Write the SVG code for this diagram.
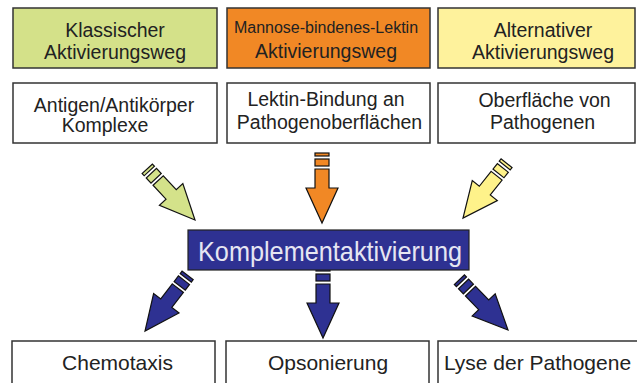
<svg xmlns="http://www.w3.org/2000/svg" xmlns:xlink="http://www.w3.org/1999/xlink" width="637" height="383" viewBox="0 0 637 383">
<style>
.box{stroke:#333;stroke-width:1.5}
.t{font-family:"Liberation Sans",Arial,sans-serif;fill:#222;text-anchor:middle}
.arr{stroke:#111;stroke-width:1.2;stroke-linejoin:miter}
</style>
<defs>
<g id="arrow">
<rect x="-7" y="-70" width="14" height="3"/>
<rect x="-7" y="-64" width="14" height="7"/>
<path d="M-7,-54 L7,-54 L7,-35 L16,-35 L0,0 L-16,-35 L-7,-35 Z"/>
</g>
</defs>
<rect width="637" height="383" fill="#fff"/>
<g id="connectors" class="arr">
<use xlink:href="#arrow" fill="#D4E28A" transform="translate(195,220) rotate(-43)"/>
<use xlink:href="#arrow" fill="#F18825" transform="translate(322,223)"/>
<use xlink:href="#arrow" fill="#FEF28A" transform="translate(463,218) rotate(38.5)"/>
<use xlink:href="#arrow" fill="#2E3192" transform="translate(145,331) rotate(37.5)"/>
<use xlink:href="#arrow" fill="#2E3192" transform="translate(323,338)"/>
<use xlink:href="#arrow" fill="#2E3192" transform="translate(508,330) rotate(-44)"/>
</g>
<g id="klassisch">
<rect class="box" x="13" y="8" width="204" height="60" fill="#D4E189"/>
<text class="t" x="115" y="37" font-size="19.5">Klassischer</text>
<text class="t" x="115" y="59" font-size="19.5">Aktivierungsweg</text>
</g>
<g id="mbl">
<rect class="box" x="227" y="8" width="203" height="60" fill="#F18825"/>
<text class="t" x="326" y="33" font-size="16">Mannose-bindenes-Lektin</text>
<text class="t" x="326" y="58" font-size="19.5">Aktivierungsweg</text>
</g>
<g id="alternativ">
<rect class="box" x="438" y="8" width="197" height="60" fill="#FEF29C"/>
<text class="t" x="543" y="37" font-size="19.5">Alternativer</text>
<text class="t" x="543" y="59" font-size="19.5">Aktivierungsweg</text>
</g>
<g id="antigen">
<rect class="box" x="13" y="83" width="204" height="60" fill="#fff"/>
<text class="t" x="114" y="112" font-size="19.5">Antigen/Antikörper</text>
<text class="t" x="105" y="132" font-size="19.5">Komplexe</text>
</g>
<g id="lektin">
<rect class="box" x="227" y="83" width="203" height="60" fill="#fff"/>
<text class="t" x="326" y="106" font-size="19.5">Lektin-Bindung an</text>
<text class="t" x="329.5" y="129" font-size="19.5">Pathogenoberflächen</text>
</g>
<g id="oberflaeche">
<rect class="box" x="438" y="83" width="197" height="60" fill="#fff"/>
<text class="t" x="544.5" y="107" font-size="19.5">Oberfläche von</text>
<text class="t" x="542.5" y="129" font-size="19.5">Pathogenen</text>
</g>
<g id="komplement">
<rect x="188" y="230" width="281" height="40" fill="#2E3192" stroke="#222" stroke-width="1.2"/>
<text class="t" x="330" y="261" font-size="28" style="fill:#E6E6F2" textLength="264" lengthAdjust="spacingAndGlyphs">Komplementaktivierung</text>
</g>
<g id="chemotaxis">
<rect class="box" x="12" y="341" width="203" height="60" fill="#fff"/>
<text class="t" x="117.5" y="370" font-size="21">Chemotaxis</text>
</g>
<g id="opsonierung">
<rect class="box" x="226" y="341" width="203" height="60" fill="#fff"/>
<text class="t" x="328" y="370" font-size="21">Opsonierung</text>
</g>
<g id="lyse">
<rect class="box" x="438" y="341" width="210" height="60" fill="#fff"/>
<text class="t" x="537.5" y="370" font-size="21">Lyse der Pathogene</text>
</g>
</svg>
